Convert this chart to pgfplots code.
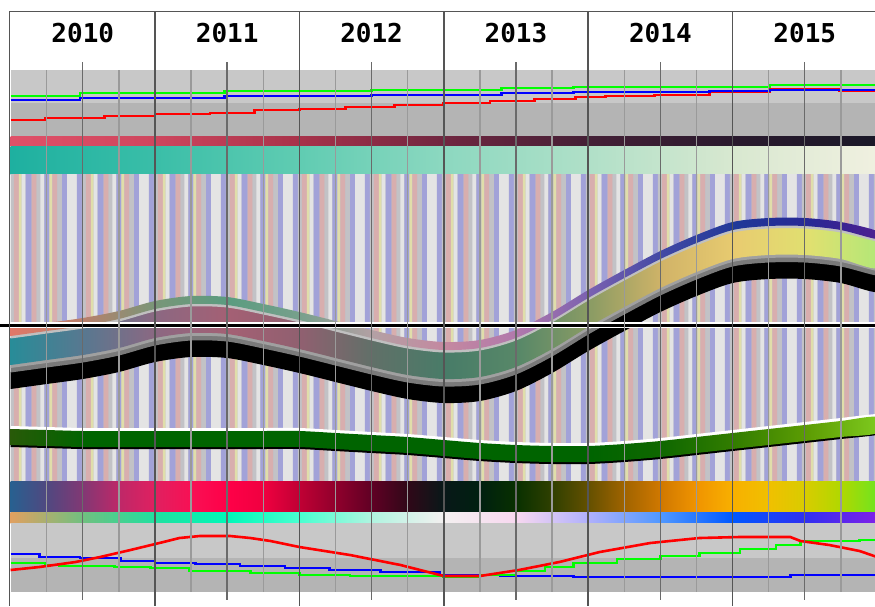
\documentclass[border=0pt]{standalone}
\usepackage{fontspec}
\usepackage{pgfplots}
\usepackage{pgfplotstable}
\pgfplotsset{compat=1.18}
\usetikzlibrary{patterns}
\newfontfamily\yf{DejaVu Sans Mono}

\definecolor{bandL}{HTML}{C8C8C8}
\definecolor{bandD}{HTML}{B4B4B4}
\definecolor{sW}{HTML}{E4E4E4}
\definecolor{sL}{HTML}{A2A2D8}
\definecolor{sG}{HTML}{C2C2C6}
\definecolor{sP}{HTML}{D8AEAE}
\definecolor{sY}{HTML}{E0DEAA}
\definecolor{sepgray}{HTML}{C0C0C0}
\definecolor{midgray}{HTML}{7A7A7A}
\definecolor{ltgray}{HTML}{A0A0A0}
\definecolor{yearline}{HTML}{555555}
\definecolor{midline}{HTML}{6A6A6A}
\definecolor{qline}{HTML}{9A9A9A}

\def\dc#1#2{\definecolor{#1}{RGB}{#2}}
% pink band
\dc{pk0}{224,80,104}\dc{pk1}{206,70,94}\dc{pk2}{168,50,74}\dc{pk3}{112,38,64}\dc{pk4}{68,32,54}\dc{pk5}{42,26,46}\dc{pk6}{26,24,40}
% teal band
\dc{tl0}{30,176,160}\dc{tl1}{58,190,168}\dc{tl2}{96,204,178}\dc{tl3}{140,216,192}\dc{tl4}{176,224,200}\dc{tl5}{216,232,208}\dc{tl6}{240,240,224}
% colour band (quarters)
\dc{gb0}{40,96,144}\dc{gb1}{80,72,128}\dc{gb2}{130,56,116}\dc{gb3}{190,40,104}\dc{gb4}{224,32,96}
\dc{gb5}{248,16,84}\dc{gb6}{255,0,72}\dc{gb7}{240,0,64}\dc{gb8}{192,0,52}\dc{gb9}{144,0,44}
\dc{gb10}{96,0,36}\dc{gb11}{48,8,24}\dc{gb12}{8,24,24}\dc{gb13}{0,32,16}\dc{gb14}{8,48,0}
\dc{gb15}{48,64,0}\dc{gb16}{100,80,0}\dc{gb17}{160,100,0}\dc{gb18}{208,120,0}\dc{gb19}{240,148,0}
\dc{gb20}{248,176,0}\dc{gb21}{240,192,0}\dc{gb22}{216,204,0}\dc{gb23}{176,216,0}\dc{gb24}{112,228,32}
% thin band (half years)
\dc{tb0}{224,160,96}\dc{tb1}{112,192,128}\dc{tb2}{32,224,160}\dc{tb3}{0,248,184}\dc{tb4}{72,255,208}
\dc{tb5}{176,244,224}\dc{tb6}{244,240,240}\dc{tb7}{248,216,240}\dc{tb8}{176,176,252}\dc{tb9}{80,152,255}
\dc{tb10}{0,88,255}\dc{tb11}{48,48,240}\dc{tb12}{128,32,232}
% ribbon border (half years)
\dc{rb0}{224,120,104}\dc{rb1}{184,128,108}\dc{rb2}{120,150,120}\dc{rb3}{90,156,128}\dc{rb4}{120,160,140}
\dc{rb5}{180,160,164}\dc{rb6}{196,136,160}\dc{rb7}{176,120,172}\dc{rb8}{120,96,176}\dc{rb9}{64,72,164}
\dc{rb10}{32,56,152}\dc{rb11}{40,40,148}\dc{rb12}{80,32,144}
% ribbon fill (half years)
\dc{rf0}{40,140,152}\dc{rf1}{88,120,144}\dc{rf2}{140,104,130}\dc{rf3}{164,96,116}\dc{rf4}{144,96,112}
\dc{rf5}{96,112,104}\dc{rf6}{72,124,104}\dc{rf7}{88,136,104}\dc{rf8}{140,156,100}\dc{rf9}{210,180,104}
\dc{rf10}{232,204,112}\dc{rf11}{224,224,112}\dc{rf12}{176,232,120}
% green ribbon
\dc{gn0}{40,90,8}\dc{gn1}{0,100,0}\dc{gn8}{0,100,0}\dc{gn9}{16,104,0}
\dc{gn10}{52,126,0}\dc{gn11}{94,158,4}\dc{gn12}{128,204,32}

\pgfdeclarehorizontalshading{pkshade}{100bp}{color(0bp)=(pk0); color(25bp)=(pk0); color(33.3333bp)=(pk1); color(41.6667bp)=(pk2); color(50bp)=(pk3); color(58.3333bp)=(pk4); color(66.6667bp)=(pk5); color(75bp)=(pk6); color(100bp)=(pk6)}
\pgfdeclarehorizontalshading{tlshade}{100bp}{color(0bp)=(tl0); color(25bp)=(tl0); color(33.3333bp)=(tl1); color(41.6667bp)=(tl2); color(50bp)=(tl3); color(58.3333bp)=(tl4); color(66.6667bp)=(tl5); color(75bp)=(tl6); color(100bp)=(tl6)}
\pgfdeclarehorizontalshading{gbshade}{100bp}{color(0bp)=(gb0); color(25bp)=(gb0); color(27.0833bp)=(gb1); color(29.1667bp)=(gb2); color(31.25bp)=(gb3); color(33.3333bp)=(gb4); color(35.4167bp)=(gb5); color(37.5bp)=(gb6); color(39.5833bp)=(gb7); color(41.6667bp)=(gb8); color(43.75bp)=(gb9); color(45.8333bp)=(gb10); color(47.9167bp)=(gb11); color(50bp)=(gb12); color(52.0833bp)=(gb13); color(54.1667bp)=(gb14); color(56.25bp)=(gb15); color(58.3333bp)=(gb16); color(60.4167bp)=(gb17); color(62.5bp)=(gb18); color(64.5833bp)=(gb19); color(66.6667bp)=(gb20); color(68.75bp)=(gb21); color(70.8333bp)=(gb22); color(72.9167bp)=(gb23); color(75bp)=(gb24); color(100bp)=(gb24)}
\pgfdeclarehorizontalshading{tbshade}{100bp}{color(0bp)=(tb0); color(25bp)=(tb0); color(29.1667bp)=(tb1); color(33.3333bp)=(tb2); color(37.5bp)=(tb3); color(41.6667bp)=(tb4); color(45.8333bp)=(tb5); color(50bp)=(tb6); color(54.1667bp)=(tb7); color(58.3333bp)=(tb8); color(62.5bp)=(tb9); color(66.6667bp)=(tb10); color(70.8333bp)=(tb11); color(75bp)=(tb12); color(100bp)=(tb12)}
\pgfdeclarehorizontalshading{rbshade}{100bp}{color(0bp)=(rb0); color(25bp)=(rb0); color(29.1667bp)=(rb1); color(33.3333bp)=(rb2); color(37.5bp)=(rb3); color(41.6667bp)=(rb4); color(45.8333bp)=(rb5); color(50bp)=(rb6); color(54.1667bp)=(rb7); color(58.3333bp)=(rb8); color(62.5bp)=(rb9); color(66.6667bp)=(rb10); color(70.8333bp)=(rb11); color(75bp)=(rb12); color(100bp)=(rb12)}
\pgfdeclarehorizontalshading{rfshade}{100bp}{color(0bp)=(rf0); color(25bp)=(rf0); color(29.1667bp)=(rf1); color(33.3333bp)=(rf2); color(37.5bp)=(rf3); color(41.6667bp)=(rf4); color(45.8333bp)=(rf5); color(50bp)=(rf6); color(54.1667bp)=(rf7); color(58.3333bp)=(rf8); color(62.5bp)=(rf9); color(66.6667bp)=(rf10); color(70.8333bp)=(rf11); color(75bp)=(rf12); color(100bp)=(rf12)}
\pgfdeclarehorizontalshading{gnshade}{100bp}{color(0bp)=(gn0); color(25bp)=(gn0); color(29.1667bp)=(gn1); color(58.3333bp)=(gn8); color(62.5bp)=(gn9); color(66.6667bp)=(gn10); color(70.8333bp)=(gn11); color(75bp)=(gn12); color(100bp)=(gn12)}

\def\st#1#2#3{\pgfsetcolor{#1}\pgfpathrectangle{\pgfpoint{#2pt}{0pt}}{\pgfpoint{#3pt}{1200pt}}\pgfusepath{fill}}
\pgfdeclarepatterninherentlycolored{vstripes}
{\pgfpointorigin}{\pgfpoint{72pt}{1200pt}}
{\pgfpoint{72pt}{1200pt}}
{%
\st{sW}{0}{5}\st{sL}{5}{5}\st{sG}{10}{4}\st{sP}{14}{5}\st{sY}{19}{3}%
\st{sW}{22}{4}\st{sL}{26}{6}\st{sP}{32}{5}\st{sG}{37}{4}\st{sW}{41}{4}%
\st{sL}{45}{5}\st{sY}{50}{3}\st{sP}{53}{5}\st{sG}{58}{5}\st{sL}{63}{5}\st{sW}{68}{4}%
}

% upper wave: top edge in pixel rows; s=0 forward along top, s=1 back along bottom
\pgfplotstableread{
x t s
2010.00 328 0
2010.25 323 0
2010.50 318 0
2010.75 311 0
2011.00 301 0
2011.25 296 0
2011.50 297 0
2011.75 304 0
2012.00 312 0
2012.25 321 0
2012.50 330 0
2012.75 338 0
2013.00 342 0
2013.25 340 0
2013.50 330 0
2013.75 312 0
2014.00 290 0
2014.25 270 0
2014.50 251 0
2014.75 235 0
2015.00 222 0
2015.25 218 0
2015.50 218 0
2015.75 222 0
2016.00 231 0
2016.00 231 1
2015.75 222 1
2015.50 218 1
2015.25 218 1
2015.00 222 1
2014.75 235 1
2014.50 251 1
2014.25 270 1
2014.00 290 1
2013.75 312 1
2013.50 330 1
2013.25 340 1
2013.00 342 1
2012.75 338 1
2012.50 330 1
2012.25 321 1
2012.00 312 1
2011.75 304 1
2011.50 297 1
2011.25 296 1
2011.00 301 1
2010.75 311 1
2010.50 318 1
2010.25 323 1
2010.00 328 1
}\wave

% lower green ribbon: top edge
\pgfplotstableread{
x g s
2010.00 426 0
2010.25 427 0
2010.50 428 0
2010.75 428 0
2011.00 428 0
2011.25 428 0
2011.50 428 0
2011.75 428 0
2012.00 428 0
2012.25 430 0
2012.50 432 0
2012.75 434 0
2013.00 437 0
2013.25 440 0
2013.50 442 0
2013.75 443 0
2014.00 443 0
2014.25 441 0
2014.50 438 0
2014.75 434 0
2015.00 430 0
2015.25 426 0
2015.50 422 0
2015.75 418 0
2016.00 414 0
2016.00 414 1
2015.75 418 1
2015.50 422 1
2015.25 426 1
2015.00 430 1
2014.75 434 1
2014.50 438 1
2014.25 441 1
2014.00 443 1
2013.75 443 1
2013.50 442 1
2013.25 440 1
2013.00 437 1
2012.75 434 1
2012.50 432 1
2012.25 430 1
2012.00 428 1
2011.75 428 1
2011.50 428 1
2011.25 428 1
2011.00 428 1
2010.75 428 1
2010.50 428 1
2010.25 427 1
2010.00 426 1
}\gr

\begin{document}
\begin{tikzpicture}
\begin{axis}[
  scale only axis, width=875pt, height=606pt,
  xmin=2009.9266, xmax=2015.9862,
  ymin=0, ymax=606, y dir=reverse,
  hide axis, clip=true, clip bounding box=upper bound,
]
% background
\addplot[fill=white, draw=none] coordinates {(2009.9,0)(2016.1,0)(2016.1,606)(2009.9,606)} --cycle;

% top gray band
\addplot[fill=bandL, draw=none] coordinates {(2010,70)(2016.1,70)(2016.1,103)(2010,103)} --cycle;
\addplot[fill=bandD, draw=none] coordinates {(2010,103)(2016.1,103)(2016.1,136)(2010,136)} --cycle;

% top lines
\addplot[red, line width=2.6pt, const plot] coordinates {
(2010,120)(2010.24,118)(2010.65,116)(2011.0,114)(2011.38,113)(2011.69,110)(2012.0,109)(2012.32,107)
(2012.66,105)(2013.0,103)(2013.32,101)(2013.63,99)(2013.91,97)(2014.12,96)(2014.46,95)(2014.84,91.5)
(2015.26,89)(2015.74,91)(2016,91)};
\addplot[blue, line width=2.6pt, const plot] coordinates {
(2010,100)(2010.48,98)(2011.48,96)(2012.5,95)(2013.4,93)(2013.9,92)(2014.84,91)(2015.26,90)(2016,90)};
\addplot[green, line width=2.6pt, const plot] coordinates {
(2010,96)(2010.48,93)(2011.48,91)(2012.5,90)(2013.4,88)(2013.9,87)(2015.26,85)(2016,85)};

% pink and teal bands
\addplot[shade, shading=pkshade, draw=none] coordinates {(2010,136)(2016,136)(2016,146.3)(2010,146.3)} --cycle;
\addplot[shade, shading=tlshade, draw=none] coordinates {(2010,146)(2016,146)(2016,174)(2010,174)} --cycle;

% striped field
\addplot[fill=sG, draw=none] coordinates {(2010,174)(2016.1,174)(2016.1,481)(2010,481)} --cycle;
\addplot[pattern=vstripes, draw=none] coordinates {(2010,174)(2016.1,174)(2016.1,481)(2010,481)} --cycle;

% upper ribbon (layers below the top edge t)
\addplot[smooth, fill=black, draw=none] table[x=x, y expr=\thisrow{t}+44+17*\thisrow{s}] {\wave} --cycle;
\addplot[smooth, fill=midgray, draw=none] table[x=x, y expr=\thisrow{t}+36.5+8*\thisrow{s}] {\wave} --cycle;
\addplot[smooth, fill=ltgray, draw=none] table[x=x, y expr=\thisrow{t}+36.5+3.5*\thisrow{s}] {\wave} --cycle;
\addplot[smooth, shade, shading=rfshade, draw=none] table[x=x, y expr=\thisrow{t}+10+27*\thisrow{s}] {\wave} --cycle;
\addplot[smooth, fill=sepgray, draw=none] table[x=x, y expr=\thisrow{t}+7.5+3*\thisrow{s}] {\wave} --cycle;
\addplot[smooth, shade, shading=rbshade, draw=none] table[x=x, y expr=\thisrow{t}+8*\thisrow{s}] {\wave} --cycle;

% centre line
\addplot[white, line width=6.2pt] coordinates {(2009.9,324.9)(2016.1,324.9)};
\addplot[black, line width=2.8pt] coordinates {(2009.9,325.6)(2016.1,325.6)};

% green ribbon
\addplot[smooth, fill=white, draw=none] table[x=x, y expr=\thisrow{g}+3.5*\thisrow{s}] {\gr} --cycle;
\addplot[smooth, fill=black, draw=none] table[x=x, y expr=\thisrow{g}+18.5+2.5*\thisrow{s}] {\gr} --cycle;
\addplot[smooth, shade, shading=gnshade, draw=none] table[x=x, y expr=\thisrow{g}+3+16*\thisrow{s}] {\gr} --cycle;

% colour bands
\addplot[shade, shading=gbshade, draw=none] coordinates {(2010,481)(2016,481)(2016,512.3)(2010,512.3)} --cycle;
\addplot[shade, shading=tbshade, draw=none] coordinates {(2010,512)(2016,512)(2016,523)(2010,523)} --cycle;

% bottom gray band
\addplot[fill=bandL, draw=none] coordinates {(2010,523)(2016.1,523)(2016.1,558)(2010,558)} --cycle;
\addplot[fill=bandD, draw=none] coordinates {(2010,558)(2016.1,558)(2016.1,592)(2010,592)} --cycle;

\addplot[blue, line width=2.6pt, const plot] coordinates {
(2010,554)(2010.2,557)(2010.48,558)(2010.76,561)(2011,563)(2011.28,564)(2011.59,566)(2011.9,568)
(2012.21,570)(2012.56,572)(2012.97,575)(2013.39,576)(2013.9,577)(2015.4,575)(2016,575)};
\addplot[green, line width=2.6pt, const plot] coordinates {
(2010,563)(2010.24,565)(2010.34,566)(2010.72,567)(2010.97,568)(2011.24,571)(2011.66,573)(2012,575)
(2012.35,576)(2013,577)(2013.25,575)(2013.5,571)(2013.7,567)(2013.9,563)(2014.2,559)(2014.5,556)
(2014.77,553)(2015.05,549)(2015.3,545)(2015.47,541)(2015.88,540)(2016,540)};
\addplot[red, line width=2.6pt] coordinates {
(2010,570)(2010.2,567)(2010.45,562)(2010.62,557)(2010.83,550)(2011.03,543)(2011.17,538)(2011.31,536)
(2011.52,536)(2011.66,538)(2011.8,541)(2012,547)(2012.35,555)(2012.7,565)(2013,576)(2013.25,576)
(2013.52,570)(2013.8,562)(2014.08,552)(2014.43,543)(2014.77,538)(2015.05,537)(2015.4,537)(2015.47,541)
(2015.67,545)(2015.88,551)(2016,557)};

% grid lines
\pgfplotsinvokeforeach{2010.25,2010.75,2011.25,2011.75,2012.25,2012.75,2013.25,2013.75,2014.25,2014.75,2015.25,2015.75}{
  \addplot[qline, line width=1.3pt] coordinates {(#1,70)(#1,592)};
}
\pgfplotsinvokeforeach{2010.5,2011.5,2012.5,2013.5,2014.5,2015.5}{
  \addplot[midline, line width=1.4pt] coordinates {(#1,62)(#1,600)};
}
\pgfplotsinvokeforeach{2009.992,2011,2012,2013,2014,2015}{
  \addplot[yearline, line width=1.6pt] coordinates {(#1,11)(#1,606)};
}
\addplot[yearline, line width=1.6pt] coordinates {(2009.99,11.5)(2016.1,11.5)};

% year labels
\node[font=\yf\bfseries\fontsize{26}{26}\selectfont, text=black] at (axis cs:2010.5,33) {2010};
\node[font=\yf\bfseries\fontsize{26}{26}\selectfont, text=black] at (axis cs:2011.5,33) {2011};
\node[font=\yf\bfseries\fontsize{26}{26}\selectfont, text=black] at (axis cs:2012.5,33) {2012};
\node[font=\yf\bfseries\fontsize{26}{26}\selectfont, text=black] at (axis cs:2013.5,33) {2013};
\node[font=\yf\bfseries\fontsize{26}{26}\selectfont, text=black] at (axis cs:2014.5,33) {2014};
\node[font=\yf\bfseries\fontsize{26}{26}\selectfont, text=black] at (axis cs:2015.5,33) {2015};
\end{axis}
\end{tikzpicture}
\end{document}
